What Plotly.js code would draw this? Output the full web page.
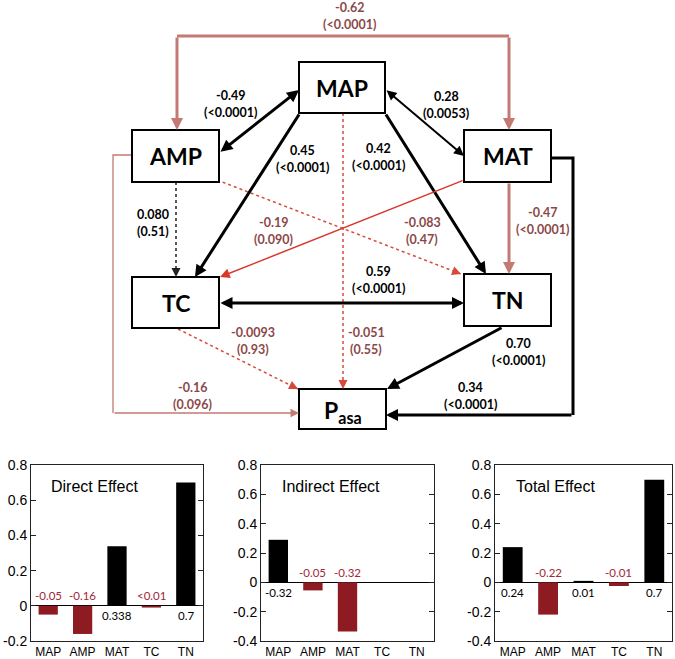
<!DOCTYPE html>
<html>
<head>
<meta charset="utf-8">
<script src="https://cdn.plot.ly/plotly-3.0.1.min.js"></script>
<style>html,body{margin:0;padding:0;background:#fff}</style>
</head>
<body>
<div id="chart" style="width:675px;height:659px"></div>
<script>
// ---------- data ----------
const categories = ['MAP', 'AMP', 'MAT', 'TC', 'TN'];
const directEffect = [-0.05, -0.16, 0.338, -0.01, 0.70];
const indirectEffect = [0.29, -0.055, -0.335, null, null];
const totalEffect = [0.24, -0.22, 0.01, -0.025, 0.70];
const directLabels = ['-0.05', '-0.16', '0.338', '<0.01', '0.7'];
const indirectLabels = ['-0.32', '-0.05', '-0.32', '', ''];
const totalLabels = ['0.24', '-0.22', '0.01', '-0.01', '0.7'];
const panelTitles = ['Direct Effect', 'Indirect Effect', 'Total Effect'];
const yTickVals = [-0.4, -0.2, 0, 0.2, 0.4, 0.6, 0.8];
const yTickText = ['-0.4', '-0.2', '0', '0.2', '0.4', '0.6', '0.8'];

const nodeNames = ['MAP', 'AMP', 'MAT', 'TC', 'TN', 'P<sub>asa</sub>'];
const pathCoef = ['-0.62', '-0.49', '0.28', '0.45', '0.42', '-0.051', '0.080', '-0.083', '-0.19', '-0.47', '0.59', '-0.0093', '-0.16', '0.70', '0.34'];
const pathP = ['(<0.0001)', '(<0.0001)', '(0.0053)', '(<0.0001)', '(<0.0001)', '(0.55)', '(0.51)', '(0.47)', '(0.090)', '(<0.0001)', '(<0.0001)', '(0.93)', '(0.096)', '(<0.0001)', '(<0.0001)'];

// ---------- styles ----------
const RED_BAR = '#8e1b22';
const RED_TXT = '#a02838';
const BROWN_LINE = '#c27a72';
const BROWN_TXT = '#8c4848';
const RED_LINE = '#d8382a';
const DOT_RED = '#d64a3a';

const shapes = [];
const ann = [];

function arrow(x0, y0, x1, y1, color, w, opts) {
  opts = opts || {};
  const size = opts.size || 1;
  if (opts.dash) {
    shapes.push({type: 'line', xref: 'x4', yref: 'y4', x0: x0, y0: y0, x1: x1, y1: y1,
      line: {color: color, width: w, dash: 'dot'}});
    const L = Math.hypot(x1 - x0, y1 - y0), k = 6 / L;
    ann.push({xref: 'x4', yref: 'y4', axref: 'x4', ayref: 'y4', x: x1, y: y1,
      ax: x1 - (x1 - x0) * k, ay: y1 - (y1 - y0) * k, text: '', showarrow: true,
      arrowhead: 2, arrowsize: size, arrowwidth: w, arrowcolor: color, standoff: 0});
  } else {
    const a = {xref: 'x4', yref: 'y4', axref: 'x4', ayref: 'y4', x: x1, y: y1, ax: x0, ay: y0,
      text: '', showarrow: true, arrowhead: 2, arrowsize: size, arrowwidth: w,
      arrowcolor: color, standoff: 0, startstandoff: 0};
    if (opts.both) { a.arrowside = 'end+start'; a.startarrowhead = 2; a.startarrowsize = size; }
    ann.push(a);
  }
}
function poly(path, color, w) {
  shapes.push({type: 'path', xref: 'x4', yref: 'y4', path: path, line: {color: color, width: w}});
}
function label(i, x, y, color, anchor) {
  [pathCoef[i], pathP[i]].forEach(function (t, j) {
    ann.push({xref: 'x4', yref: 'y4', x: x, y: y - 8.5 + 17 * j, showarrow: false,
      text: '<b>' + t + '</b>', xanchor: anchor || 'center', yanchor: 'middle',
      font: {family: 'Lato, Noto Sans, sans-serif', size: 12.5, color: color}});
  });
}

// ---------- diagram edges ----------
poly('M 177 36 L 509 36', BROWN_LINE, 3);
arrow(177, 36, 177, 130, BROWN_LINE, 3, {size: 0.8});
arrow(509, 36, 509, 130, BROWN_LINE, 3, {size: 0.8});
arrow(219, 153, 299, 90, '#000', 3, {both: true, size: 0.8});
arrow(385, 89, 464, 156, '#000', 2, {both: true, size: 1.0});
arrow(300, 113, 195, 277, '#000', 3, {size: 0.8});
arrow(385, 113, 486, 274, '#000', 3, {size: 0.8});
arrow(343, 113, 343, 389, DOT_RED, 1.5, {dash: true, size: 1.2});
arrow(176, 182, 176, 277, '#222', 1.5, {dash: true, size: 1.2});
arrow(217, 180, 461, 274, DOT_RED, 1.5, {dash: true, size: 1.2});
arrow(464, 180, 220, 277, RED_LINE, 1.5, {size: 1.3});
arrow(509, 182, 509, 274, BROWN_LINE, 3, {size: 0.8});
arrow(219, 303, 464, 303, '#000', 3, {both: true, size: 0.8});
arrow(178, 329, 298, 389, DOT_RED, 1.5, {dash: true, size: 1.2});
poly('M 132 155 L 113 155 L 113 413', BROWN_LINE, 1.3);
arrow(113, 413, 299, 413, BROWN_LINE, 1.3, {size: 1.3});
arrow(503, 327, 387, 389, '#000', 3, {size: 0.8});
poly('M 551 158 L 573 158 L 573 415', '#000', 3);
arrow(573, 415, 386, 415, '#000', 3, {size: 0.8});

// ---------- boxes ----------
const boxes = [[299, 385, 62, 113], [132, 219, 130, 182], [464, 551, 130, 182],
               [132, 219, 277, 328], [464, 551, 274, 326], [299, 386, 389, 429]];
boxes.forEach(function (b, i) {
  shapes.push({type: 'rect', xref: 'x4', yref: 'y4', x0: b[0], x1: b[1], y0: b[2], y1: b[3],
    line: {color: '#000', width: 2}, fillcolor: '#fff'});
  ann.push({xref: 'x4', yref: 'y4', x: (b[0] + b[1]) / 2, y: (b[2] + b[3]) / 2 + (i === 5 ? 2 : 0),
    text: '<b>' + nodeNames[i] + '</b>', showarrow: false,
    font: {family: 'Lato, Noto Sans, sans-serif', size: 23, color: '#000'}});
});

// ---------- labels ----------
label(0, 349, 16, BROWN_TXT);
label(1, 230, 104, '#000');
label(2, 446, 105, '#000');
label(3, 302, 159, '#000');
label(4, 378, 157, '#000');
label(5, 366, 341, BROWN_TXT);
label(6, 135, 223, '#000', 'left');
label(7, 422, 231, BROWN_TXT);
label(8, 273, 231, BROWN_TXT);
label(9, 542, 221, BROWN_TXT);
label(10, 378, 280, '#000');
label(11, 253, 341, BROWN_TXT);
label(12, 192, 396, BROWN_TXT);
label(13, 518, 352, '#000');
label(14, 470, 396, '#000');

// ---------- bar panels ----------
const panels = [
  {vals: directEffect, labs: directLabels, xd: [31 / 675, 203 / 675], yr: [-0.2, 0.8], tx: 0.105},
  {vals: indirectEffect, labs: indirectLabels, xd: [261 / 675, 434 / 675], yr: [-0.4, 0.8], tx: 0.11},
  {vals: totalEffect, labs: totalLabels, xd: [495 / 675, 672 / 675], yr: [-0.4, 0.8], tx: 0.11}
];
const yDom = [(659 - 641) / 659, (659 - 465) / 659];
const traces = [];
const layout = {
  width: 675, height: 659, margin: {l: 0, r: 0, t: 0, b: 0},
  paper_bgcolor: '#fff', plot_bgcolor: 'rgba(0,0,0,0)', showlegend: false,
  font: {family: 'Liberation Sans, Arial, sans-serif', color: '#000'},
  xaxis4: {domain: [0, 1], range: [0, 675], visible: false, fixedrange: true, anchor: 'y4'},
  yaxis4: {domain: [0, 1], range: [659, 0], visible: false, fixedrange: true, anchor: 'x4'}
};
traces.push({type: 'scatter', mode: 'markers', x: [0], y: [0], xaxis: 'x4', yaxis: 'y4',
  marker: {size: 1, color: 'rgba(0,0,0,0)'}, hoverinfo: 'skip', showlegend: false});

panels.forEach(function (p, k) {
  const sx = k === 0 ? '' : String(k + 1);
  traces.push({
    type: 'bar', x: categories, y: p.vals, xaxis: 'x' + sx, yaxis: 'y' + sx, width: 0.56,
    marker: {color: p.vals.map(function (v) { return v !== null && v < 0 ? RED_BAR : '#000'; })},
    hoverinfo: 'x+y'
  });
  layout['xaxis' + sx] = {
    domain: p.xd, anchor: 'y' + sx, type: 'category', range: [-0.5, 4.5],
    showline: true, mirror: true, linecolor: '#222', linewidth: 1, ticks: '',
    showgrid: false, zeroline: false, tickfont: {size: 12, color: '#000'}, fixedrange: true
  };
  const ti = yTickVals.filter(function (v) { return v >= p.yr[0] - 1e-9; });
  layout['yaxis' + sx] = {
    domain: yDom, anchor: 'x' + sx, range: p.yr,
    tickvals: ti, ticktext: ti.map(function (v) { return yTickText[yTickVals.indexOf(v)]; }),
    showline: true, mirror: 'ticks', linecolor: '#222', linewidth: 1,
    ticks: 'inside', ticklen: 5, tickcolor: '#222', showgrid: false,
    zeroline: true, zerolinecolor: '#000', zerolinewidth: 1,
    tickfont: {size: 14, color: '#000'}, fixedrange: true
  };
  ann.push({xref: 'x' + sx + ' domain', yref: 'y' + sx + ' domain', x: p.tx, y: 0.88,
    xanchor: 'left', yanchor: 'middle', showarrow: false, text: panelTitles[k],
    font: {family: 'Liberation Sans, Arial, sans-serif', size: 16, color: '#000'}});
  categories.forEach(function (c, i) {
    const v = p.vals[i];
    if (v === null || p.labs[i] === '') return;
    const neg = v < 0;
    ann.push({xref: 'x' + sx, yref: 'y' + sx, x: c, y: 0, showarrow: false,
      text: p.labs[i], yanchor: 'middle', yshift: neg ? 10 : -10,
      font: {family: 'Lato, Noto Sans, sans-serif', size: 11.5, color: neg ? RED_TXT : '#000'}});
  });
});

layout.shapes = shapes;
layout.annotations = ann;
Plotly.newPlot('chart', traces, layout, {displayModeBar: false, staticPlot: true});
</script>
</body>
</html>
